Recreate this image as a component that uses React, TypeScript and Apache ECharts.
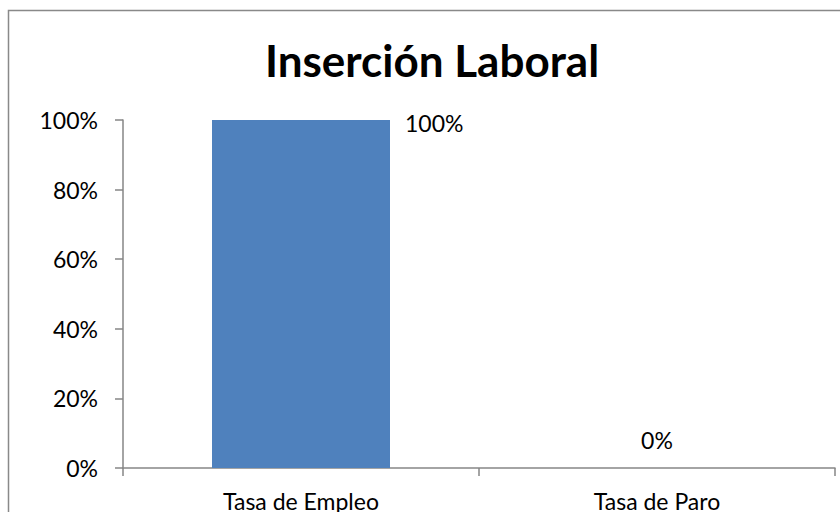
import React, { useEffect, useRef } from "react";
import * as echarts from "echarts";

const titleText = "Inserción Laboral";
const categories = ["Tasa de Empleo", "Tasa de Paro"];
const values = [1.0, 0.0];
const yTicks = [0, 0.2, 0.4, 0.6, 0.8, 1.0];

const FONT = "Lato";

export default function App() {
  const ref = useRef<HTMLDivElement>(null);
  useEffect(() => {
    document.body.style.margin = "0";
    if (!ref.current) return;
    const chart = echarts.init(ref.current, null, { renderer: "svg" });
    chart.setOption({
      animation: false,
      backgroundColor: "#ffffff",
      title: {
        text: titleText,
        left: 427,
        textAlign: "center",
        top: 33,
        textStyle: { fontFamily: FONT, fontWeight: "bold", fontSize: 44, color: "#000000" },
      },
      graphic: [
        {
          type: "rect",
          shape: { x: 8.5, y: 10.5, width: 840, height: 520 },
          style: { fill: "none", stroke: "#898989", lineWidth: 1.5 },
          silent: true,
        },
      ],
      grid: { left: 123, right: 5, top: 120, bottom: 39 },
      xAxis: {
        type: "category",
        data: categories,
        axisLine: { show: true, lineStyle: { color: "#868686", width: 1.5 } },
        axisTick: { show: true, length: 8, alignWithLabel: false, lineStyle: { color: "#868686", width: 1.5 } },
        axisLabel: { fontFamily: FONT, fontSize: 23, color: "#000000", margin: 21 },
        splitLine: { show: false },
      },
      yAxis: {
        type: "value",
        min: yTicks[0],
        max: yTicks[yTicks.length - 1],
        interval: 0.2,
        axisLine: { show: true, lineStyle: { color: "#868686", width: 1.5 } },
        axisTick: { show: true, length: 8, lineStyle: { color: "#868686", width: 1.5 } },
        axisLabel: {
          fontFamily: FONT,
          fontSize: 23,
          color: "#000000",
          margin: 25,
          formatter: (v: number) => `${Math.round(v * 100)}%`,
        },
        splitLine: { show: false },
      },
      series: [
        {
          type: "bar",
          barWidth: "50%",
          itemStyle: { color: "#4F81BD" },
          data: values.map((v, i) => ({
            value: v,
            label:
              i === 0
                ? { show: true, position: ["100%", 0], align: "left", verticalAlign: "middle", offset: [15, 3] }
                : { show: true, position: "top", distance: 17 },
          })),
          label: {
            fontFamily: FONT,
            fontSize: 23,
            color: "#000000",
            formatter: (p: any) => `${Math.round(p.value * 100)}%`,
          },
        },
      ],
    });
    return () => chart.dispose();
  }, []);
  return <div ref={ref} style={{ width: 840, height: 512 }} />;
}
